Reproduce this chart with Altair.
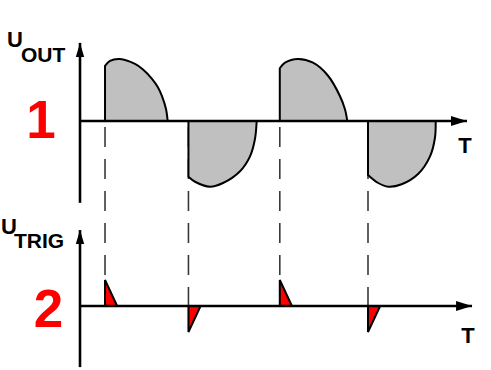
import altair as alt
import pandas as pd

# ---------------- data ----------------
# time in ms (x), normalised voltage (v)
TRIGGER_MS = [2.78, 12.05, 22.2, 32.0]
TRIGGER_POLARITY = [1, -1, 1, -1]
PULSE_WIDTH_MS = 1.35

POS1_T = [2.78, 3.33, 4.44, 6.11, 7.0, 8.0, 8.67, 9.11, 9.56, 9.74]
POS1_V = [0.89, 0.97, 1.0, 0.92, 0.83, 0.68, 0.54, 0.40, 0.19, 0.0]
NEG1_T = [12.05, 12.78, 14.44, 15.89, 17.78, 18.89, 19.44, 19.63]
NEG1_V = [-0.9, -0.98, -1.06, -1.0, -0.81, -0.57, -0.29, 0.0]
POS2_T = [22.2, 22.78, 24.22, 25.89, 27.56, 28.89, 29.44, 29.7]
POS2_V = [0.85, 0.94, 1.0, 0.94, 0.73, 0.40, 0.19, 0.0]
NEG2_T = [32.0, 33.14, 34.26, 35.74, 37.59, 38.89, 39.44, 39.52]
NEG2_V = [-0.87, -1.0, -1.06, -1.02, -0.85, -0.57, -0.27, 0.0]

TIME_AXIS_END = {"top": 43.0, "bottom": 43.56}
VALUE_AXIS_RANGE = {"top": (-1.32, 1.26), "bottom": (-2.35, 2.92)}

# ---------------- layout ----------------
W, H = 491, 370
ORIGIN_PX, PX_PER_MS = 80, 9.0
TOP_BASE, TOP_GAIN = 121, 62
BOT_BASE, BOT_GAIN = 306, 26


def row_expr(field):
    return (f"datum.panel == 'top' ? {TOP_BASE} - {TOP_GAIN} * datum.{field}"
            f" : {BOT_BASE} - {BOT_GAIN} * datum.{field}")


xscale = alt.Scale(domain=[-ORIGIN_PX / PX_PER_MS, (W - ORIGIN_PX) / PX_PER_MS],
                   nice=False, zero=False)
yscale = alt.Scale(domain=[0, H], reverse=True, nice=False, zero=False)
X = alt.X("t:Q", scale=xscale, axis=None)
Y = alt.Y("row:Q", scale=yscale, axis=None)

# half waves
rows = []
for name, ts, vs in [("p1", POS1_T, POS1_V), ("n1", NEG1_T, NEG1_V),
                     ("p2", POS2_T, POS2_V), ("n2", NEG2_T, NEG2_V)]:
    for t, v in zip(ts, vs):
        rows.append({"seg": name, "t": t, "v": v, "panel": "top"})
wave_df = pd.DataFrame(rows)

# trigger pulses
prow = []
for i, (t, p) in enumerate(zip(TRIGGER_MS, TRIGGER_POLARITY)):
    prow.append({"seg": f"k{i}", "t": t, "v": p, "panel": "bottom"})
    prow.append({"seg": f"k{i}", "t": t + PULSE_WIDTH_MS, "v": 0, "panel": "bottom"})
pulse_df = pd.DataFrame(prow)

# dashed guide lines
dash_df = pd.DataFrame({
    "t": TRIGGER_MS,
    "vt": [0] * len(TRIGGER_MS),
    "vb": [max(0, p) for p in TRIGGER_POLARITY],
})

hax_df = pd.DataFrame({
    "panel": ["top", "bottom"],
    "t": [0, 0],
    "t2": [TIME_AXIS_END["top"], TIME_AXIS_END["bottom"]],
    "v": [0, 0],
})
vax_df = pd.DataFrame({
    "panel": ["top", "bottom"],
    "t": [0, 0],
    "v": [VALUE_AXIS_RANGE["top"][0], VALUE_AXIS_RANGE["bottom"][0]],
    "v2": [VALUE_AXIS_RANGE["top"][1], VALUE_AXIS_RANGE["bottom"][1]],
})
rarrow_df = pd.DataFrame({"panel": ["top", "bottom"],
                          "t": [TIME_AXIS_END["top"], TIME_AXIS_END["bottom"]],
                          "v": [0, 0]})
uarrow_df = pd.DataFrame({"panel": ["top", "bottom"], "t": [0, 0],
                          "v": [VALUE_AXIS_RANGE["top"][1], VALUE_AXIS_RANGE["bottom"][1]]})

dashes = alt.Chart(dash_df).mark_rule(
    color="#3a3a3a", strokeWidth=1.6, strokeDash=[20, 12], strokeDashOffset=26
).transform_calculate(
    row=f"{TOP_BASE} - {TOP_GAIN} * datum.vt",
    row2=f"{BOT_BASE} - {BOT_GAIN} * datum.vb",
).encode(x=X, y=Y, y2=alt.Y2("row2:Q"))

waves = alt.Chart(wave_df).mark_area(
    fill="#C0C0C0", stroke="black", strokeWidth=2, interpolate="catmull-rom",
    strokeJoin="round", fillOpacity=1
).transform_calculate(row=row_expr("v"), base=f"{TOP_BASE}").encode(
    x=X, y=Y, y2=alt.Y2("base:Q"), detail="seg:N")

pulses = alt.Chart(pulse_df).mark_area(
    fill="#FF0000", stroke="black", strokeWidth=2, interpolate="linear",
    strokeJoin="miter", fillOpacity=1
).transform_calculate(row=row_expr("v"), base=f"{BOT_BASE}").encode(
    x=X, y=Y, y2=alt.Y2("base:Q"), detail="seg:N")

haxes = alt.Chart(hax_df).mark_rule(color="black", strokeWidth=2.6).transform_calculate(
    row=row_expr("v")).encode(x=X, x2=alt.X2("t2:Q"), y=Y)

vaxes = alt.Chart(vax_df).mark_rule(color="black", strokeWidth=2.6).transform_calculate(
    row=row_expr("v"), row2=row_expr("v2")).encode(x=X, y=Y, y2=alt.Y2("row2:Q"))

rarrows = alt.Chart(rarrow_df).mark_point(
    shape="M 0 0 L -1 -0.31 L -1 0.31 Z", size=1024, filled=True,
    color="black", opacity=1, strokeWidth=0
).transform_calculate(row=row_expr("v")).encode(x=X, y=Y)

uarrows = alt.Chart(uarrow_df).mark_point(
    shape="M 0 0 L -0.3 1 L 0.3 1 Z", size=784, filled=True,
    color="black", opacity=1, strokeWidth=0
).transform_calculate(row=row_expr("v")).encode(x=X, y=Y)

FONT = "Liberation Sans"
dummy = pd.DataFrame({"a": [0]})


def label(text, px, py, size, color="black", align="left"):
    return alt.Chart(dummy).mark_text(
        text=text, font=FONT, fontSize=size, fontWeight="bold", color=color,
        align=align, baseline="alphabetic"
    ).encode(x=alt.value(px), y=alt.value(py))


labels = [
    label("U", 7, 47, 22),
    label("OUT", 21, 61.5, 21),
    label("U", 1, 233.5, 22),
    label("TRIG", 14, 248, 21),
    label("1", 41, 138, 53, "#FF0000", "center"),
    label("2", 48.5, 327, 53, "#FF0000", "center"),
    label("T", 465, 153, 22, align="center"),
    label("T", 468, 343, 22, align="center"),
]

chart = alt.layer(dashes, waves, pulses, haxes, vaxes, rarrows, uarrows, *labels).properties(
    width=W, height=H, autosize=alt.AutoSizeParams(type="none"), padding=0,
    background="white"
).configure_view(stroke=None)

chart.save("out.html", embed_options={"renderer": "svg", "actions": False})
